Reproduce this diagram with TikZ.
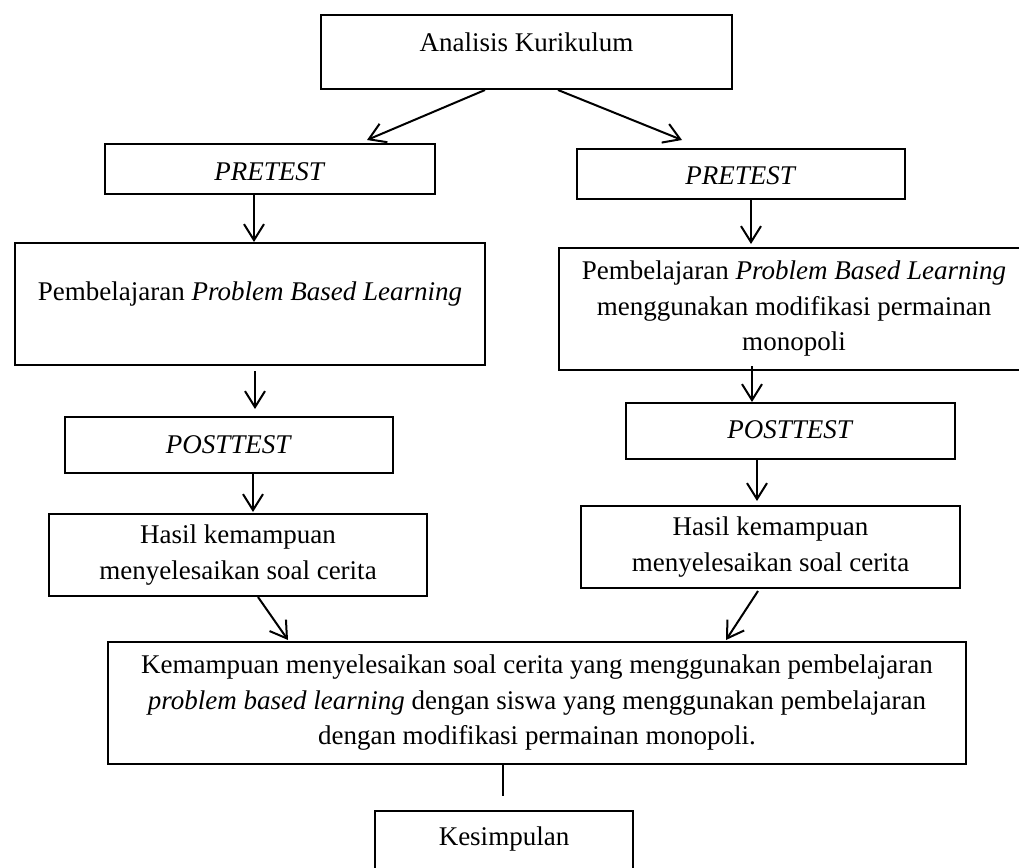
\documentclass[tikz,border=0pt]{standalone}
\usepackage{fontspec}
\setmainfont{Liberation Serif}
\usetikzlibrary{arrows.meta}
\usetikzlibrary{calc}
\usetikzlibrary{positioning}

\tikzset{
  kotak/.style={draw, line width=1pt, align=center, inner sep=0pt},
  panah/.style={->, line width=1pt},
  >={Straight Barb[length=8pt, width=10pt]}
}

\begin{document}
\begin{tikzpicture}[x=0.5pt, y=-0.5pt, font=\fontsize{13.5pt}{17.75pt}\selectfont]
    \path[fill=white, use as bounding box] (0,0) rectangle (1019,868);
    % atas
    \node[kotak, minimum width=205.5pt, minimum height=37pt, text height=9pt, text depth=10pt]
      at (526.5, 52) (kur) {Analisis Kurikulum};
    % kelompok kiri
    \node[kotak, minimum width=165pt, minimum height=25pt, text height=11pt, text depth=0pt]
      at (270, 169) (pre1) {\textit{PRETEST}};
    \node[kotak, minimum width=235pt, minimum height=61pt, text height=9pt, text depth=13pt]
      at (250, 304) (pbl1) {Pembelajaran \textit{Problem Based Learning}};
    \node[kotak, minimum width=164pt, minimum height=28pt, text height=9pt, text depth=1pt]
      at (229, 445) (post1) {\textit{POSTTEST}};
    \node[kotak, minimum width=189pt, minimum height=41pt]
      at (238, 555) (hasil1) {Hasil kemampuan\\ menyelesaikan soal cerita};
    % kelompok kanan
    \node[kotak, minimum width=164pt, minimum height=25pt, text height=10pt, text depth=0pt]
      at (741, 174) (pre2) {\textit{PRETEST}};
    \node[kotak, minimum width=235pt, minimum height=61pt]
      at (794, 309) (pbl2) {Pembelajaran \textit{Problem Based Learning}\\ menggunakan modifikasi permainan\\ monopoli};
    \node[kotak, minimum width=164.5pt, minimum height=28pt, text height=9pt, text depth=2pt]
      at (790.5, 431) (post2) {\textit{POSTTEST}};
    \node[kotak, minimum width=189.5pt, minimum height=41pt]
      at (770.5, 547) (hasil2) {Hasil kemampuan\\ menyelesaikan soal cerita};
    % bawah
    \node[kotak, minimum width=429pt, minimum height=61pt]
      at (537, 703) (banding) {Kemampuan menyelesaikan soal cerita yang menggunakan pembelajaran\\ \textit{problem based learning} dengan siswa yang menggunakan pembelajaran\\ dengan modifikasi permainan monopoli.};
    \node[kotak, minimum width=129pt, minimum height=34.5pt, text height=9pt, text depth=9.5pt]
      at (504, 845.5) (kes) {Kesimpulan};

    \draw[panah] ($(kur.south)+(-41.5,0)$) -- ($(pre1.north)+(97,-3)$);
    \draw[panah] ($(kur.south)+(31.5,0)$) -- ($(pre2.north)+(-59,-8)$);
    \draw[panah] ($(pre1.south)+(-16,0)$) -- ($(pbl1.north)+(4,0)$);
    \draw[panah] ($(pbl1.south)+(5,5)$) -- ($(post1.north)+(26,-7)$);
    \draw[panah] ($(post1.south)+(24,0)$) -- ($(hasil1.north)+(15,-1)$);
    \draw[panah] ($(pre2.south)+(10,0)$) -- ($(pbl2.north)+(-43,-3)$);
    \draw[panah] ($(pbl2.south)+(-42,-5)$) -- ($(post2.north)+(-38.5,0)$);
    \draw[panah] ($(post2.south)+(-33.5,0)$) -- ($(hasil2.north)+(-13.5,-4)$);
    \draw[panah] ($(hasil1.south)+(20,0)$) -- ($(banding.north)+(-249,-1)$);
    \draw[panah] ($(hasil2.south)+(-12.5,2)$) -- ($(banding.north)+(189,-1)$);
    \draw[line width=1pt] ($(banding.south)+(-34,0)$) -- ($(kes.north)+(-1,-14)$);
\end{tikzpicture}
\end{document}
